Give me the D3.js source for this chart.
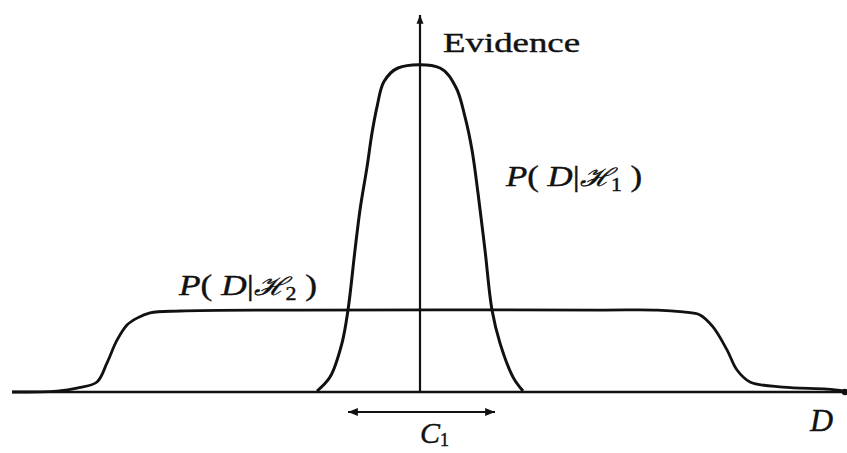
<!DOCTYPE html>
<html>
<head>
<meta charset="utf-8">
<script src="https://cdn.jsdelivr.net/npm/d3@7"></script>
<style>
  body { margin: 0; background: #fff; }
  text { font-family: "Liberation Serif", "DejaVu Serif", serif; fill: #111; stroke: #111; stroke-width: 0.4; }
</style>
</head>
<body>
<div id="chart"></div>
<script>
let width = 847, height = 453;

// evidence for the narrow model H1 [D, evidence]
let h1Points = [
  [-2.575, 0.003], [-2.25, 0.046], [-1.95, 0.151], [-1.8, 0.253], [-1.625, 0.438],
  [-1.5, 0.562], [-1.325, 0.694], [-1.2, 0.799], [-1.075, 0.88], [-0.9, 0.958],
  [-0.55, 1.0], [0.5, 1.0], [0.9, 0.94], [1.125, 0.849], [1.3, 0.747],
  [1.45, 0.614], [1.625, 0.438], [1.8, 0.253], [2.0, 0.151], [2.325, 0.046], [2.575, 0.003]
];
// evidence for the broad model H2
let h2Points = [
  [-10.2, 0.0], [-9.075, 0.003], [-8.575, 0.012], [-8.075, 0.031], [-7.825, 0.09],
  [-7.575, 0.16], [-7.325, 0.207], [-7.075, 0.228], [-6.75, 0.244], [-6.0, 0.25],
  [-3.0, 0.253], [4.5, 0.253], [5.925, 0.253], [6.575, 0.247], [7.0, 0.238],
  [7.325, 0.201], [7.675, 0.13], [7.925, 0.068], [8.25, 0.031], [9.075, 0.015],
  [10.175, 0.009], [10.625, 0.003]
];
let dRange = [-10.2, 10.625];   // extent of the D axis
let c1Range = [-1.8, 1.875];    // width of the C1 arrow
let labels = { evidence: "Evidence", d: "D" };

let x = d3.scaleLinear().domain(dRange).range([12, 845]);
let y = d3.scaleLinear().domain([0, 1]).range([392, 68]);

let svg = d3.select("#chart").append("svg")
  .attr("width", width).attr("height", height);

let defs = svg.append("defs");
function marker(id, w, h) {
  defs.append("marker").attr("id", id)
    .attr("viewBox", "0 0 10 10").attr("refX", 10).attr("refY", 5)
    .attr("markerWidth", w).attr("markerHeight", h)
    .attr("markerUnits", "strokeWidth").attr("orient", "auto-start-reverse")
    .append("path").attr("d", "M0,1 L10,5 L0,9 Z").attr("fill", "#111");
}
marker("head", 6, 4);
marker("head2", 6, 4.5);

// horizontal D axis with a dot at its end
svg.append("line")
  .attr("x1", x(dRange[0])).attr("x2", x(dRange[1]))
  .attr("y1", y(0)).attr("y2", y(0))
  .attr("stroke", "#111").attr("stroke-width", 2.4);
svg.append("circle").attr("cx", x(dRange[1])).attr("cy", y(0)).attr("r", 3.2).attr("fill", "#111");

// vertical evidence axis
svg.append("line")
  .attr("x1", x(0)).attr("x2", x(0))
  .attr("y1", y(0)).attr("y2", 15)
  .attr("stroke", "#111").attr("stroke-width", 2.2)
  .attr("marker-end", "url(#head)");

let line = d3.line().x(d => x(d[0])).y(d => y(d[1])).curve(d3.curveCatmullRom.alpha(0.5));

svg.append("path").datum(h2Points)
  .attr("d", line).attr("fill", "none")
  .attr("stroke", "#111").attr("stroke-width", 2.8);
svg.append("path").datum(h1Points)
  .attr("d", line).attr("fill", "none")
  .attr("stroke", "#111").attr("stroke-width", 3);

// C1 double arrow
svg.append("line")
  .attr("x1", x(c1Range[0])).attr("x2", x(c1Range[1]))
  .attr("y1", 412).attr("y2", 412)
  .attr("stroke", "#111").attr("stroke-width", 2.2)
  .attr("marker-start", "url(#head2)").attr("marker-end", "url(#head2)");

// labels
svg.append("text").attr("x", 443).attr("y", 52)
  .attr("font-size", 27).attr("textLength", 137).attr("lengthAdjust", "spacingAndGlyphs")
  .text(labels.evidence);

function probLabel(xp, yp, sub, len) {
  let t = svg.append("text").attr("x", xp).attr("y", yp).attr("font-size", 29)
    .attr("textLength", len).attr("lengthAdjust", "spacingAndGlyphs");
  t.append("tspan").attr("font-style", "italic").text("P");
  t.append("tspan").text("( ");
  t.append("tspan").attr("font-style", "italic").text("D");
  t.append("tspan").text("|");
  t.append("tspan").attr("font-family", "DejaVu Serif").attr("font-style", "italic").attr("font-size", 25).text("\u210B");
  t.append("tspan").attr("font-size", 18).attr("dy", 5).text(sub);
  t.append("tspan").attr("dy", -5).text(" )");
}
probLabel(506, 186, "1", 136);
probLabel(179, 295, "2", 138);

svg.append("text").attr("x", 810).attr("y", 431)
  .attr("font-size", 32).attr("font-style", "italic").text(labels.d);

let c1 = svg.append("text").attr("x", 420).attr("y", 443).attr("font-size", 30);
c1.append("tspan").attr("font-style", "italic").text("C");
c1.append("tspan").attr("font-size", 18).attr("dy", 3).text("1");
</script>
</body>
</html>
